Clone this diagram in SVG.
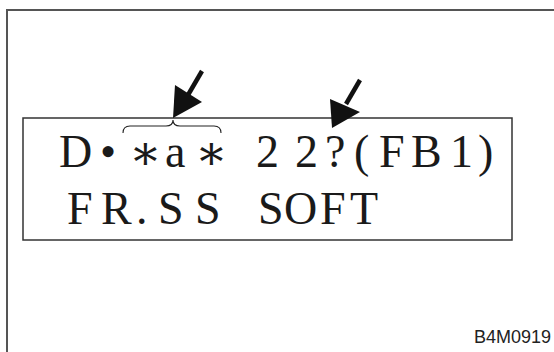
<svg xmlns="http://www.w3.org/2000/svg" width="554" height="352" viewBox="0 0 554 352">
  <style>
    .frame { fill: none; stroke: #555; stroke-width: 2; }
    .box { fill: #fff; stroke: #333; stroke-width: 1.5; }
    .disp { font-family: "Liberation Serif", "Times New Roman", serif; font-size: 46px; fill: #1a1a1a; }
    .ast { font-family: "DejaVu Serif", "Liberation Serif", serif; font-size: 48px; fill: #1a1a1a; }
    .code { font-family: "Liberation Sans", Arial, sans-serif; font-size: 18px; fill: #222; }
    .brace { fill: none; stroke: #222; stroke-width: 1.1; }
    .shaft { stroke: #111; stroke-width: 4.5; fill: none; }
    .head { fill: #111; }
  </style>
  <rect width="554" height="352" fill="#fff"/>
  <rect class="frame" x="7" y="10" width="620" height="420"/>

  <g id="display">
    <rect class="box" x="23" y="118" width="489" height="122"/>
    <text class="disp" y="167"><tspan x="59">D</tspan><tspan x="100">•</tspan><tspan x="165">a</tspan><tspan x="256">2</tspan><tspan x="295">2</tspan><tspan x="325">?</tspan><tspan x="354">(</tspan><tspan x="379">F</tspan><tspan x="411">B</tspan><tspan x="450">1</tspan><tspan x="478">)</tspan></text>
    <text class="ast" y="169"><tspan x="129">∗</tspan><tspan x="195">∗</tspan></text>
    <text class="disp" y="224"><tspan x="67">F</tspan><tspan x="101">R</tspan><tspan x="136">.</tspan><tspan x="158">S</tspan><tspan x="195">S</tspan><tspan x="258">S</tspan><tspan x="284">O</tspan><tspan x="320">F</tspan><tspan x="350">T</tspan></text>
    <path class="brace" d="M123,133 Q123,126 130,126 L166,126 Q173,126 173,120 Q173,126 180,126 L214,126 Q221,126 221,133"/>
  </g>

  <g id="connectors">
    <line class="shaft" x1="202" y1="71" x2="188" y2="95"/>
    <polygon class="head" points="173,118 175,85 202,102"/>
    <line class="shaft" x1="360" y1="80" x2="346" y2="104"/>
    <polygon class="head" points="332,128 330,99 360,112"/>
  </g>

  <g id="label">
    <text class="code" x="551" y="343" text-anchor="end">B4M0919</text>
  </g>
</svg>
